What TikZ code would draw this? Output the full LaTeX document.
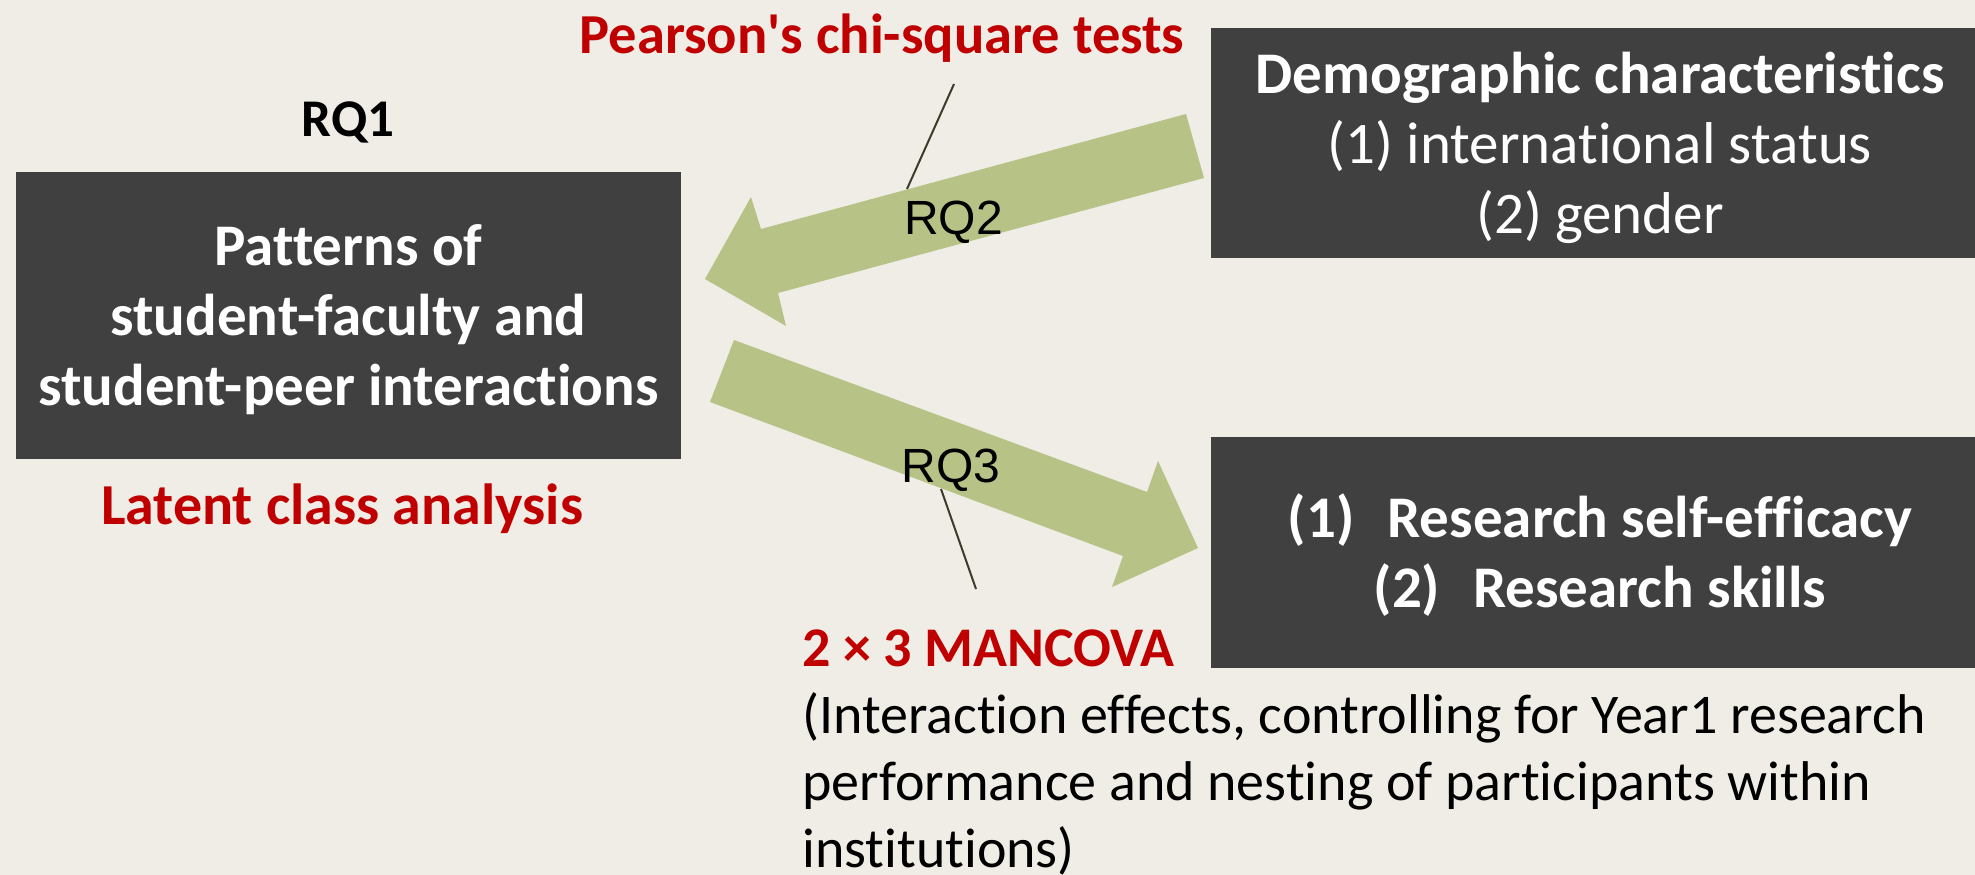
\documentclass[tikz,border=0pt]{standalone}
\usepackage{fontspec}
\setmainfont{Carlito}[Ligatures={NoCommon}]
\newfontfamily\arialf{Liberation Sans}
\definecolor{bg}{HTML}{EFEDE5}
\definecolor{boxgray}{HTML}{404040}
\definecolor{arrowgreen}{HTML}{B7C287}
\definecolor{darkred}{HTML}{C00000}
\definecolor{leader}{HTML}{3D3B2C}
\newcommand\myTop{\rule{0pt}{58pt}}
\newcommand\myBot{\rule[-18pt]{0pt}{18pt}}
\newcommand\myTopB{\rule{0pt}{48pt}}
\tikzset{
  darkbox/.style={fill=boxgray, text=white, inner sep=0pt, align=center},
  boxfont/.style={font=\fontsize{59}{70}\selectfont},
  redlab/.style={text=darkred, inner sep=0pt, font=\bfseries\fontsize{56.5}{60}\selectfont},
  rqone/.style={text=black, inner sep=0pt, font=\bfseries\fontsize{53}{60}\selectfont},
  rqlab/.style={text=black, inner sep=0pt, font=\arialf\fontsize{48}{56}\selectfont},
  blockarrow/.style={fill=arrowgreen, draw=none},
  leaderline/.style={draw=leader, line width=2pt},
  bodytext/.style={text=black, inner sep=0pt, align=left, font=\fontsize{56}{67}\selectfont}
}
\begin{document}
\begin{tikzpicture}[x=1pt,y=-1pt]
\useasboundingbox[fill=bg] (0,0) rectangle (1975,875);

% boxes
\node[darkbox, boxfont, minimum width=665pt, minimum height=287pt] (pat) at (348.5,315.5)
  {\bfseries\myTop Patterns of\\\bfseries student-faculty and\\\bfseries student-peer interactions\myBot};
\node[darkbox, boxfont, minimum width=778pt, minimum height=230pt] (demo) at (1600,143)
  {\bfseries\myTop Demographic characteristics\\(1) international status\\(2) gender\myBot};
\node[darkbox, boxfont, minimum width=778pt, minimum height=231pt] (outc) at (1600,552.5)
  {\bfseries\myTop (1)\hspace{33pt}Research self-efficacy\\\bfseries (2)\hspace{33pt}Research skills\myBot};

% block arrows
\coordinate (a1) at (1186,114);
\coordinate (a2) at (1204,178);
\coordinate (a3) at (778,293);
\coordinate (a4) at (786,326);
\coordinate (a5) at (705,279);
\coordinate (a6) at (751,197);
\coordinate (a7) at (761,229);
\fill[blockarrow] (a1) -- (a2) -- (a3) -- (a4) -- (a5) -- (a6) -- (a7) -- cycle;

\coordinate (b1) at (734,340);
\coordinate (b2) at (710,402);
\coordinate (b3) at (1123,556);
\coordinate (b4) at (1112,587);
\coordinate (b5) at (1198,548);
\coordinate (b6) at (1158,461);
\coordinate (b7) at (1147,492);
\fill[blockarrow] (b1) -- (b2) -- (b3) -- (b4) -- (b5) -- (b6) -- (b7) -- cycle;

% labels
\node[redlab, anchor=base] (pearson) at (882,53) {Pearson\textquotesingle s chi-square tests};
\node[rqone, anchor=base] (rq1) at (348,136) {RQ1};
\node[redlab, font=\bfseries\fontsize{58}{60}\selectfont, anchor=base] (lca) at (342,524) {Latent class analysis};
\node[rqlab, anchor=base] (rq2) at (953.5,234) {RQ2};
\node[rqlab, anchor=base] (rq3) at (951,482) {RQ3};
\node[redlab, font=\bfseries\fontsize{56}{60}\selectfont, anchor=base west] (mancova) at (802,666) {2 × 3 MANCOVA};
\node[bodytext, anchor=north west] (inter) at (802,685)
  {\myTopB(Interaction effects, controlling for Year1 research\\performance and nesting of participants within\\institutions)};

% leader lines
\coordinate (p1) at (954,84);
\coordinate (p2) at (907,189);
\draw[leaderline] (p1) -- (p2);
\coordinate (m1) at (941,489);
\coordinate (m2) at (976,589);
\draw[leaderline] (m1) -- (m2);
\end{tikzpicture}
\end{document}
